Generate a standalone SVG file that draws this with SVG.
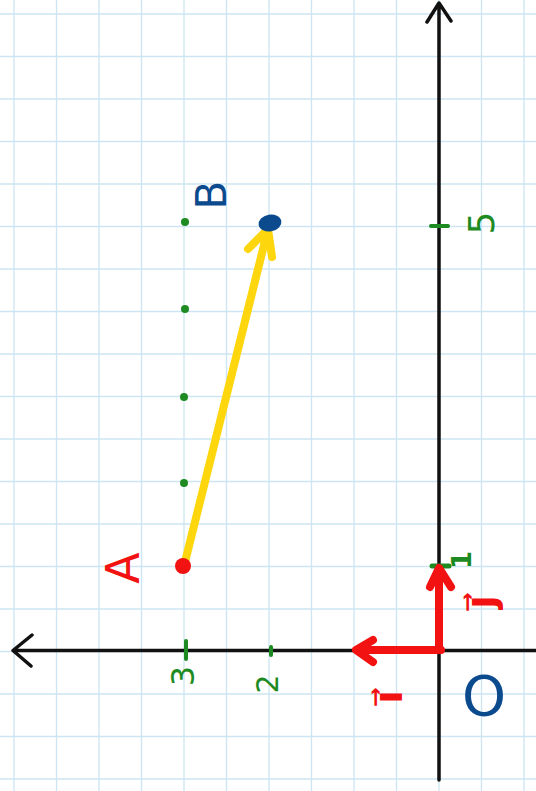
<svg xmlns="http://www.w3.org/2000/svg" width="536" height="791" viewBox="0 0 536 791">
<defs>
<style>
.grid line{stroke:#cde5f2;stroke-width:1.3}
.axis{stroke:#111;stroke-width:3.5;fill:none;stroke-linecap:round;stroke-linejoin:round}
.red{stroke:#f21212;stroke-width:8;fill:none;stroke-linecap:round;stroke-linejoin:round}
.yel{stroke:#fdd60e;stroke-width:8;fill:none;stroke-linecap:round;stroke-linejoin:round}
.tick{stroke:#1d8a22;stroke-width:4;stroke-linecap:round}
.lbl{font-family:"DejaVu Sans",sans-serif;text-anchor:middle;dominant-baseline:central}
.g{fill:#1d8a22}
.r{fill:#f21212}
.b{fill:#0c4a8e}
</style>
</defs>
<rect width="536" height="791" fill="#ffffff"/>
<g class="grid" id="grid">
<line x1="14" y1="0" x2="14" y2="791"/><line x1="56.5" y1="0" x2="56.5" y2="791"/><line x1="99" y1="0" x2="99" y2="791"/><line x1="141.5" y1="0" x2="141.5" y2="791"/><line x1="184" y1="0" x2="184" y2="791"/><line x1="226.5" y1="0" x2="226.5" y2="791"/><line x1="269" y1="0" x2="269" y2="791"/><line x1="311.5" y1="0" x2="311.5" y2="791"/><line x1="354" y1="0" x2="354" y2="791"/><line x1="396.5" y1="0" x2="396.5" y2="791"/><line x1="439" y1="0" x2="439" y2="791"/><line x1="481.5" y1="0" x2="481.5" y2="791"/><line x1="524" y1="0" x2="524" y2="791"/>
<line x1="0" y1="14" x2="536" y2="14"/><line x1="0" y1="56.5" x2="536" y2="56.5"/><line x1="0" y1="99" x2="536" y2="99"/><line x1="0" y1="141.5" x2="536" y2="141.5"/><line x1="0" y1="184" x2="536" y2="184"/><line x1="0" y1="226.5" x2="536" y2="226.5"/><line x1="0" y1="269" x2="536" y2="269"/><line x1="0" y1="311.5" x2="536" y2="311.5"/><line x1="0" y1="354" x2="536" y2="354"/><line x1="0" y1="396.5" x2="536" y2="396.5"/><line x1="0" y1="439" x2="536" y2="439"/><line x1="0" y1="481.5" x2="536" y2="481.5"/><line x1="0" y1="524" x2="536" y2="524"/><line x1="0" y1="566.5" x2="536" y2="566.5"/><line x1="0" y1="609" x2="536" y2="609"/><line x1="0" y1="651.5" x2="536" y2="651.5"/><line x1="0" y1="694" x2="536" y2="694"/><line x1="0" y1="736.5" x2="536" y2="736.5"/><line x1="0" y1="779" x2="536" y2="779"/>
</g>
<g id="axes">
<path class="axis" d="M13 650.5 H536 M32 635 L13 650.5 L31 666"/>
<path class="axis" d="M439 4 V780 M427 22 L439 3 L451 21"/>
</g>
<g id="ticks">
<line class="tick" x1="431" y1="226" x2="448" y2="226"/>
<line class="tick" x1="432" y1="566" x2="449" y2="566" style="stroke-width:5"/>
<line class="tick" x1="186" y1="641" x2="186" y2="659"/>
<line class="tick" x1="271" y1="647" x2="271" y2="655"/>
</g>
<g id="connectors">
<path class="yel" d="M184 566 L268 229 M248 249 L268 229 L272 257"/>
<path class="red" d="M439 650 V569 M430 587 L439 568 L451 587"/>
<path class="red" d="M441 650 H357 M373 640 L356 650 L373 662"/>
</g>
<g id="dots">
<circle class="g" cx="185" cy="222" r="4"/>
<circle class="g" cx="185" cy="309" r="4"/>
<circle class="g" cx="184" cy="397" r="4"/>
<circle class="g" cx="184" cy="483" r="4"/>
</g>
<g id="pointA"><circle class="r" cx="183" cy="566" r="8"/><text class="lbl r" font-size="46" transform="translate(123,568) rotate(-90)">A</text></g>
<g id="pointB"><ellipse class="b" cx="270" cy="223" rx="11.5" ry="8.5" transform="rotate(-10 270 223)"/><text class="lbl b" font-size="42" transform="translate(211,195) rotate(-90)">B</text></g>
<g id="labels">
<text class="lbl g" font-size="36" transform="translate(481,223) rotate(-90)">5</text>
<text class="lbl g" font-size="26" font-weight="bold" transform="translate(462,560) rotate(-90)">1</text>
<text class="lbl g" font-size="32" transform="translate(183,676) rotate(-90)">3</text>
<text class="lbl g" font-size="30" transform="translate(267,684) rotate(-90)">2</text>
<text class="lbl r" font-size="40" font-weight="bold" transform="translate(480,602) rotate(-90)">j⃗</text>
<text class="lbl r" font-size="40" font-weight="bold" transform="translate(388,697) rotate(-90)">i⃗</text>
<text class="lbl b" font-size="56" x="484" y="695">O</text>
</g>
</svg>
